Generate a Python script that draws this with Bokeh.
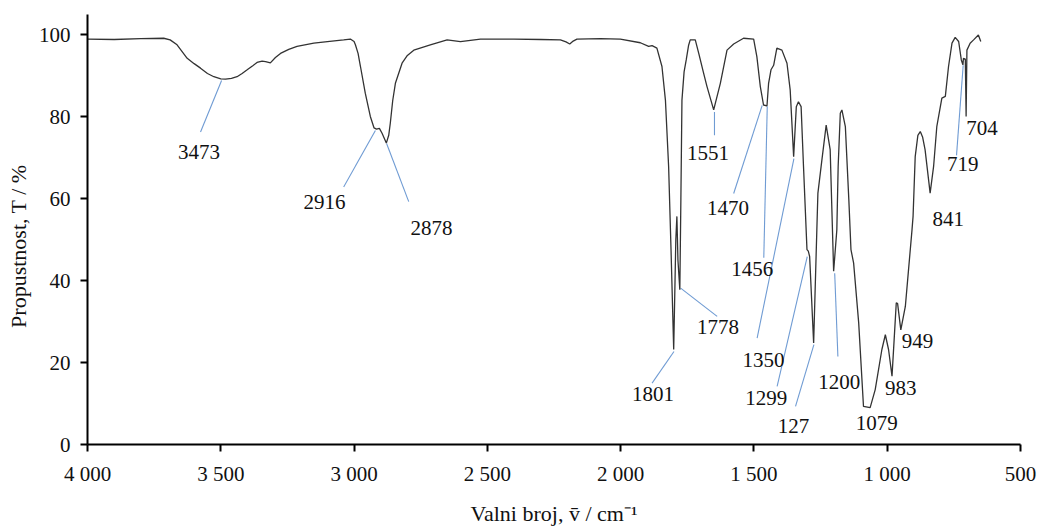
from bokeh.plotting import figure
from bokeh.models import Range1d, FixedTicker
from bokeh.embed import file_html
from bokeh.resources import INLINE
from bokeh.core.properties import value

# ---------------- data ----------------
wavenumber = [4000, 3900, 3800, 3714, 3690, 3664, 3626, 3600, 3576, 3550, 3526, 3500, 3482, 3460,
              3439, 3420, 3401, 3380, 3364, 3345, 3332, 3314, 3295, 3276, 3245, 3214, 3151, 3100,
              3039, 3014, 3000, 2995, 2985, 2976, 2958, 2939, 2925, 2916, 2905, 2895, 2879, 2870,
              2864, 2855, 2845, 2820, 2800, 2776, 2714, 2651, 2601, 2526, 2401, 2300, 2226, 2205,
              2191, 2178, 2164, 2076, 2001, 1926, 1895, 1882, 1864, 1845, 1832, 1820, 1811, 1801,
              1793, 1789, 1785, 1778, 1774, 1770, 1762, 1754, 1745, 1739, 1720, 1707, 1690, 1676,
              1651, 1626, 1601, 1576, 1539, 1501, 1489, 1476, 1464, 1451, 1445, 1436, 1426, 1414,
              1395, 1376, 1364, 1351, 1341, 1333, 1323, 1314, 1301, 1296, 1291, 1276, 1264, 1260,
              1245, 1229, 1214, 1201, 1189, 1184, 1176, 1170, 1157, 1144, 1136, 1126, 1107, 1089,
              1064, 1045, 1020, 1007, 995, 982, 974, 966, 961, 949, 932, 920, 907, 903, 895, 885,
              876, 867, 858, 839, 826, 814, 795, 782, 770, 757, 745, 732, 722, 716, 714, 707, 704,
              701, 689, 676, 658, 649]
transmittance = [99.0, 98.9, 99.1, 99.2, 98.8, 97.6, 94.3, 93.0, 91.9, 90.6, 89.8, 89.3, 89.2, 89.4,
                 89.8, 90.6, 91.5, 92.5, 93.3, 93.6, 93.5, 93.2, 94.5, 95.5, 96.5, 97.2, 98.0, 98.4,
                 98.8, 99.0, 98.4, 97.6, 95.5, 92.3, 85.8, 80.1, 77.3, 77.0, 77.2, 76.0, 73.6, 75.5,
                 78.5, 84.0, 88.2, 93.1, 95.0, 96.3, 97.6, 98.8, 98.4, 99.0, 99.0, 98.9, 98.8, 98.3,
                 97.8, 98.5, 99.0, 99.1, 99.0, 98.1, 97.2, 97.4, 96.8, 92.3, 84.1, 67.9, 47.6, 23.2,
                 50.0, 55.7, 45.0, 37.8, 60.0, 84.1, 91.0, 93.9, 97.5, 98.8, 98.8, 95.5, 91.0, 87.4,
                 81.7, 88.2, 96.3, 97.8, 99.2, 99.0, 94.7, 87.4, 82.9, 82.7, 88.2, 91.5, 92.6, 96.8,
                 96.3, 93.1, 86.6, 70.3, 82.5, 83.7, 82.5, 67.9, 47.6, 47.2, 45.9, 24.8, 52.4, 61.4,
                 69.5, 78.0, 72.0, 42.3, 52.4, 67.9, 80.9, 81.7, 77.6, 59.8, 47.6, 44.3, 29.7, 9.3,
                 9.0, 13.4, 23.2, 26.8, 23.2, 16.7, 25.6, 34.6, 34.4, 28.0, 33.7, 42.7, 52.4, 55.7,
                 70.3, 75.5, 76.4, 75.0, 72.0, 61.4, 67.9, 77.6, 84.6, 85.0, 92.3, 98.0, 99.4, 98.4,
                 93.9, 92.7, 94.3, 94.1, 80.1, 96.3, 98.0, 98.8, 100.0, 98.4]

peak_labels = ["3473", "2916", "2878", "1801", "1778", "1551", "1470", "1456", "1350",
               "1299", "127", "1200", "1079", "983", "949", "841", "719", "704"]
label_x = [3582, 3111, 2710, 1879, 1635, 1672, 1597, 1506, 1464,
           1454, 1352, 1180, 1039, 949, 886, 771, 717, 644]
label_y = [71.4, 59.3, 52.8, 12.4, 28.6, 71.1, 57.7, 42.8, 20.7,
           11.4, 4.6, 15.2, 5.2, 13.7, 25.3, 55.1, 68.5, 77.4]

# leader lines (peak point -> label)
lead_x0 = [3497, 2920, 2878, 1800, 1775, 1648, 1469, 1450, 1350, 1300, 1275, 1197, 715]
lead_y0 = [88.9, 76.7, 73.5, 22.7, 38.2, 81.2, 82.8, 82.6, 69.8, 45.9, 24.4, 41.8, 92.6]
lead_x1 = [3576, 3039, 2795, 1882, 1638, 1648, 1576, 1463, 1488, 1413, 1344, 1185, 740]
lead_y1 = [76.3, 62.9, 59.3, 15.0, 31.3, 75.5, 61.3, 45.6, 26.0, 14.2, 9.3, 21.5, 70.6]

x_ticks = [4000, 3500, 3000, 2500, 2000, 1500, 1000, 500]
x_tick_labels = ["4 000", "3 500", "3 000", "2 500", "2 000", "1 500", "1 000", "500"]
y_ticks = [0, 20, 40, 60, 80, 100]

x_title = "Valni broj, v\u0304 / cm\u207b\u00b9"
y_title = "Propustnost, T / %" + "\u00a0" * 6

# ---------------- figure ----------------
SERIF = "Liberation Serif"

p = figure(width=1040, height=528,
           x_range=Range1d(4000, 500), y_range=Range1d(0, 105),
           output_backend="svg", toolbar_location=None,
           min_border_left=87, min_border_right=20,
           min_border_top=14, min_border_bottom=83)
p.outline_line_color = None
p.grid.visible = False
p.background_fill_color = "white"
p.border_fill_color = "white"

p.segment(x0=lead_x0, y0=lead_y0, x1=lead_x1, y1=lead_y1,
          line_color="#6f9bd3", line_width=1.1)
p.line(wavenumber, transmittance, line_color="#333333", line_width=1.3)
p.text(x=label_x, y=label_y, text=peak_labels,
       text_font=value(SERIF), text_font_size="21px",
       text_align="center", text_baseline="middle", text_color="#111111")

for ax in (p.xaxis, p.yaxis):
    ax.axis_line_color = "black"
    ax.axis_line_width = 2
    ax.major_tick_line_color = "black"
    ax.major_tick_line_width = 2
    ax.major_tick_in = 0
    ax.major_tick_out = 7
    ax.minor_tick_line_color = None
    ax.major_label_text_font = SERIF
    ax.major_label_text_font_size = "21px"
    ax.major_label_text_color = "#111111"
    ax.major_label_standoff = 10
    ax.axis_label_text_font = SERIF
    ax.axis_label_text_font_size = "22px"
    ax.axis_label_text_font_style = "normal"
    ax.axis_label_text_color = "#111111"

p.xaxis.ticker = FixedTicker(ticks=x_ticks)
p.xaxis.major_label_overrides = {t: s for t, s in zip(x_ticks, x_tick_labels)}
p.yaxis.ticker = FixedTicker(ticks=y_ticks)

p.xaxis.axis_label = x_title
p.xaxis.axis_label_standoff = 12
p.yaxis.axis_label = y_title
p.yaxis.axis_label_standoff = 5

open("out.html", "w").write(file_html(p, INLINE))
